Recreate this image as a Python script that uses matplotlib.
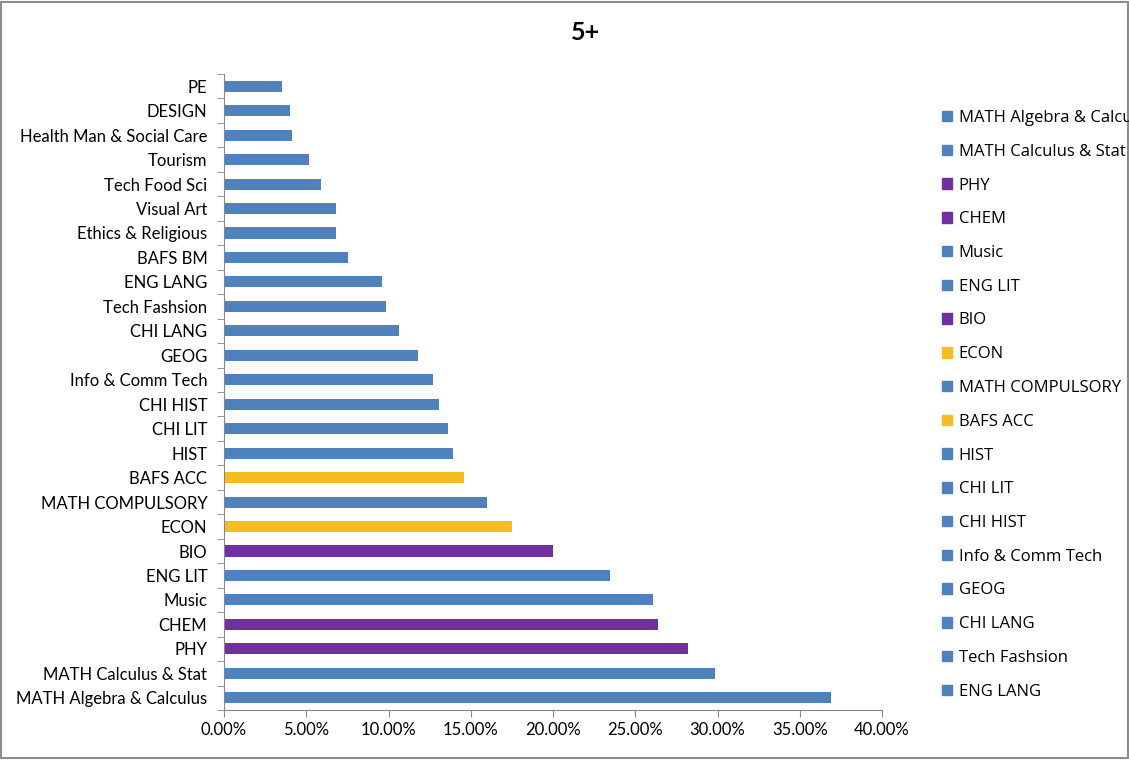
import matplotlib.pyplot as plt
from matplotlib.patches import Patch, Rectangle
from matplotlib.ticker import FuncFormatter
import numpy as np

subjects = ["MATH Algebra & Calculus", "MATH Calculus & Stat", "PHY", "CHEM", "Music",
            "ENG LIT", "BIO", "ECON", "MATH COMPULSORY", "BAFS ACC", "HIST", "CHI LIT",
            "CHI HIST", "Info & Comm Tech", "GEOG", "CHI LANG", "Tech Fashsion", "ENG LANG",
            "BAFS BM", "Ethics & Religious", "Visual Art", "Tech Food Sci", "Tourism",
            "Health Man & Social Care", "DESIGN", "PE"]
values = [0.369, 0.2985, 0.282, 0.264, 0.261, 0.2345, 0.200, 0.175, 0.160, 0.1462, 0.139,
          0.1363, 0.131, 0.1271, 0.1179, 0.1064, 0.0985, 0.096, 0.0754, 0.0681, 0.0681,
          0.059, 0.0517, 0.0413, 0.0401, 0.0353]
groups = ["b", "b", "p", "p", "b", "b", "p", "y", "b", "y", "b", "b", "b", "b", "b", "b",
          "b", "b", "b", "b", "b", "b", "b", "b", "b", "b"]

col = {"b": "#4F81BD", "p": "#7030A0", "y": "#F5BD1F"}
plt.rcParams['font.family'] = ['Lato', 'DejaVu Sans']

fig = plt.figure(figsize=(11.29, 7.6), dpi=100)
ax = fig.add_axes([224/1129, 1-710/760, (882-224)/1129, (710-74)/760])

y = np.arange(len(subjects))
colors = [col[g] for g in groups]
ax.barh(y, values, height=0.45, color=colors)

ax.set_xlim(0, 0.40)
ax.set_ylim(-0.5, len(subjects) - 0.5)
ax.set_xticks(np.arange(0, 0.401, 0.05))
ax.xaxis.set_major_formatter(FuncFormatter(lambda v, p: f"{v*100:.2f}%"))
ax.set_yticks(y)
ax.set_yticklabels(subjects)
ax.set_yticks(np.arange(-0.5, len(subjects), 1), minor=True)
ax.tick_params(axis='y', which='major', length=0, pad=12, labelsize=12)
ax.tick_params(axis='y', which='minor', length=5, color='#868686')
ax.tick_params(axis='x', length=5, color='#868686', labelsize=12)
for s in ['top', 'right']:
    ax.spines[s].set_visible(False)
for s in ['left', 'bottom']:
    ax.spines[s].set_color('#868686')

fig.text(585/1129, 1-32/760, "5+", ha='center', va='center', fontsize=18, fontweight='bold')

# legend: first 18 entries, the first one runs past the right edge as in the original
n_leg = 18
handles = [Patch(color=colors[i], label=subjects[i]) for i in range(n_leg)]
leg = fig.legend(handles=handles, loc='upper left', bbox_to_anchor=(927/1129, 1-95/760),
                 frameon=False, handlelength=0.6, handleheight=0.6,
                 handletextpad=0.4, labelspacing=1.065, prop={'family': 'Open Sans', 'size': 12})

fig.patches.append(Rectangle((0.001, 0.002), 0.998, 0.996, transform=fig.transFigure,
                             fill=False, edgecolor='#8c8c8c', linewidth=1.5))

fig.savefig("out.png", dpi=100)
